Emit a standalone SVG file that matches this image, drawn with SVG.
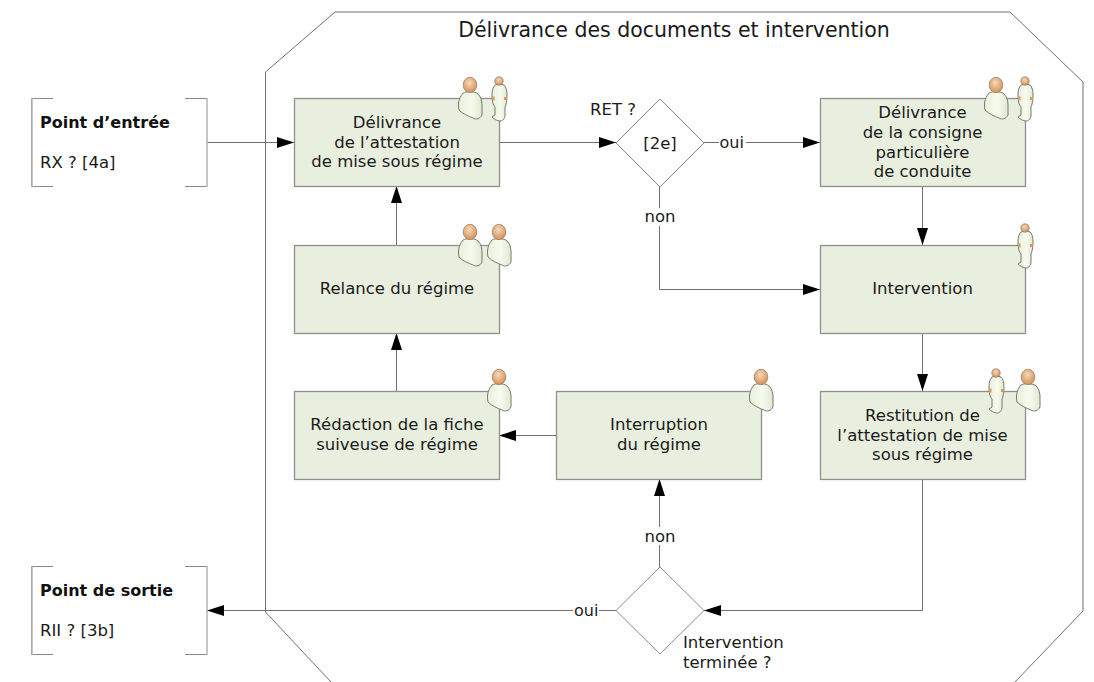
<svg xmlns="http://www.w3.org/2000/svg" width="1094" height="682" viewBox="0 0 1094 682">
<style>
text{font-family:"DejaVu Sans",Verdana,sans-serif;font-size:16.5px;fill:#1a1a1a}
.c{text-anchor:middle}
.b{font-weight:bold;fill:#111;font-size:16px}
.box{fill:#e9efdf;stroke:#8f8f8f;stroke-width:1.3}
.line{fill:none;stroke:#707070;stroke-width:1}
.dia{fill:#fff;stroke:#8a8a8a;stroke-width:1}
.br{fill:none;stroke:#8a8a8a;stroke-width:1}
.brs{fill:none;stroke:#b4b4b4;stroke-width:2}
.body{fill:url(#bg);stroke:#77796f;stroke-width:1}
.skin{fill:url(#sk);stroke:#8b7c6c;stroke-width:.7}
</style>
<defs>
<marker id="a" markerUnits="userSpaceOnUse" markerWidth="17" markerHeight="12" refX="17" refY="6" orient="auto"><path d="M0 0.500L17 6L0 11.500Z" fill="#000"/></marker>
<linearGradient id="bg" x1="0" x2="1" y1="0" y2="0"><stop offset="0" stop-color="#e8f0da"/><stop offset=".55" stop-color="#f7fbef"/><stop offset="1" stop-color="#dfe8d0"/></linearGradient>
<radialGradient id="sk" cx=".45" cy=".35" r=".7"><stop offset="0" stop-color="#f6d8b8"/><stop offset="1" stop-color="#d48a4e"/></radialGradient>
<g id="big"><path class="body" d="M-7 8C-4 6 5 6 8 9C11 12 12 16 12 20L12 30C10 34 6 35 3 33C-2 31 -7 29 -11 25C-12 20 -12 14 -7 8Z"/><ellipse class="skin" cx="0" cy="0" rx="6.800" ry="7.700"/></g>
<g id="small"><path class="body" d="M-4 4C-2 3 3 3 5 4C7 6 8 9 8 14C8 20 7 24 6 26L6 35C5 39 3 40 1 40C-2 40 -5 38 -7 36L-4 34L-4 26C-6 24 -7 20 -7 14C-7 9 -6 6 -4 4Z"/><path d="M-7 15.500h2.500v4h-2.500zM5 16h3v3h-3z" fill="#d99a58"/><circle class="skin" cx="0" cy="0" r="4.200"/></g>
</defs>
<g id="cadre"><path class="line" d="M335 12H1010L1083 82V611L1015 682M331 682L265.500 612V72L335 12"/><text class="c" x="674" y="37" style="font-size:20.500px">Délivrance des documents et intervention</text></g>
<g id="connecteurs">
<path class="line" d="M207 142.500H294" marker-end="url(#a)"/>
<path class="line" d="M499 142.500H616" marker-end="url(#a)"/>
<path class="line" d="M704 142.500H820" marker-end="url(#a)"/>
<path class="line" d="M659.500 187V289.500H820" marker-end="url(#a)"/>
<path class="line" d="M922.500 186V245" marker-end="url(#a)"/>
<path class="line" d="M922.500 333V391" marker-end="url(#a)"/>
<path class="line" d="M922.500 479V610.500H704" marker-end="url(#a)"/>
<path class="line" d="M616 610.500H207" marker-end="url(#a)"/>
<path class="line" d="M659.500 567V479" marker-end="url(#a)"/>
<path class="line" d="M556 435.500H499" marker-end="url(#a)"/>
<path class="line" d="M396.500 391V333" marker-end="url(#a)"/>
<path class="line" d="M396.500 245V186" marker-end="url(#a)"/>
</g>
<g id="entree"><path class="br" d="M53 98.500H31.500V186.500H53M185 98.500H207M185 186.500H207"/><path class="brs" d="M207 98V187M32 98V187" style="stroke-width:1.500"/><text class="b" x="40" y="128">Point d’entrée</text><text x="40" y="168">RX ? [4a]</text></g>
<g id="sortie"><path class="br" d="M53 566.500H31.500V654.500H53M185 566.500H207M185 654.500H207"/><path class="brs" d="M207 566V655M32 566V655" style="stroke-width:1.500"/><text class="b" x="40" y="596">Point de sortie</text><text x="40" y="636">RII ? [3b]</text></g>
<g id="n1"><rect class="box" x="294.500" y="98.500" width="205" height="88"/><text class="c" x="397" y="128">Délivrance</text><text class="c" x="397" y="148">de l’attestation</text><text class="c" x="397" y="167">de mise sous régime</text><use href="#big" x="470" y="85"/><use href="#small" x="499" y="81"/></g>
<g id="n2"><rect class="box" x="820.500" y="98.500" width="205" height="88"/><text class="c" x="922.500" y="118">Délivrance</text><text class="c" x="922.500" y="138">de la consigne</text><text class="c" x="922.500" y="158">particulière</text><text class="c" x="922.500" y="177">de conduite</text><use href="#big" x="996" y="85"/><use href="#small" x="1025" y="81"/></g>
<g id="n3"><rect class="box" x="820.500" y="245.500" width="205" height="88"/><text class="c" x="922.500" y="294">Intervention</text><use href="#small" x="1025" y="228"/></g>
<g id="n4"><rect class="box" x="820.500" y="391.500" width="205" height="88"/><text class="c" x="922.500" y="421">Restitution de</text><text class="c" x="922.500" y="441">l’attestation de mise</text><text class="c" x="922.500" y="460">sous régime</text><use href="#big" x="1028" y="377"/><use href="#small" x="996" y="373"/></g>
<g id="n5"><rect class="box" x="294.500" y="245.500" width="205" height="88"/><text class="c" x="397" y="294">Relance du régime</text><use href="#big" x="470" y="232"/><use href="#big" x="499" y="232"/></g>
<g id="n6"><rect class="box" x="294.500" y="391.500" width="205" height="88"/><text class="c" x="397" y="430">Rédaction de la fiche</text><text class="c" x="397" y="450">suiveuse de régime</text><use href="#big" x="499" y="377"/></g>
<g id="n7"><rect class="box" x="556.500" y="391.500" width="205" height="88"/><text class="c" x="659" y="430">Interruption</text><text class="c" x="659" y="450">du régime</text><use href="#big" x="761" y="377"/></g>
<g id="d1"><path class="dia" d="M660 99L704 143L660 187L616 143Z"/><text class="c" x="660" y="149">[2e]</text><text x="590" y="115">RET ?</text></g>
<g id="d2"><path class="dia" d="M660 567L704 610.500L660 654L616 610.500Z"/><text x="683" y="648">Intervention</text><text x="683" y="668">terminée ?</text></g>
<g id="etiquettes">
<rect x="719" y="135" width="27" height="16" fill="#fff"/><text x="719.500" y="148" style="font-size:16px">oui</text>
<rect x="642" y="208" width="36" height="18" fill="#fff"/><text class="c" x="660" y="222">non</text>
<rect x="573" y="603" width="26" height="16" fill="#fff"/><text x="574" y="615.500" style="font-size:16px">oui</text>
<rect x="642" y="527" width="36" height="18" fill="#fff"/><text class="c" x="660" y="542">non</text>
</g>
</svg>
